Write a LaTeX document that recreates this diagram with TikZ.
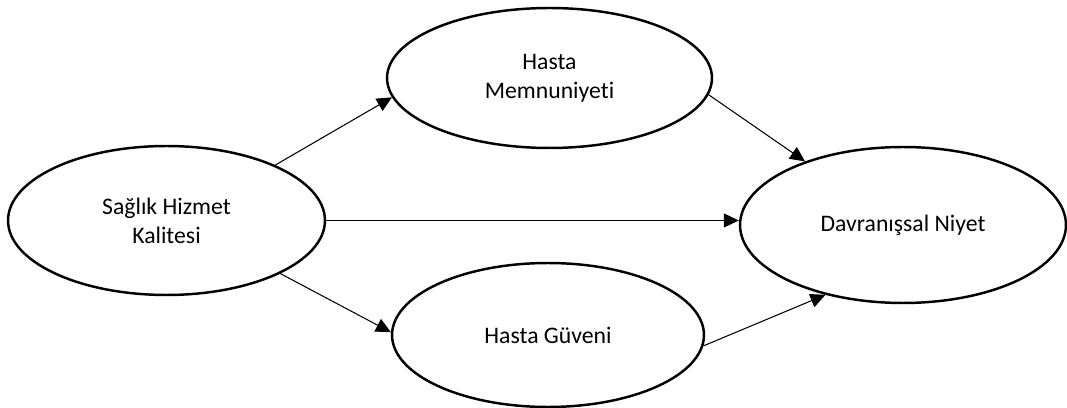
\documentclass[tikz,border=0pt]{standalone}
\usepackage{fontspec}
\setmainfont{Carlito}[Ligatures=NoCommon]
\usetikzlibrary{shapes.geometric,arrows.meta}
\begin{document}
\begin{tikzpicture}[x=0.02cm, y=-0.02cm, every node/.style={font=\fontsize{13.5}{16.5}\selectfont},
    oval/.style={draw, ellipse, line width=1.4pt, inner sep=0pt, align=center},
    link/.style={-{Triangle[length=0.3cm,width=0.28cm]}, line width=0.6pt}]
  \useasboundingbox (0,0) rectangle (1067,408);
  \node[oval, minimum width=6.34cm, minimum height=2.98cm] (shk) at (166.5,220.5) {Sağlık Hizmet\\Kalitesi};
  \node[oval, minimum width=6.5cm, minimum height=2.8cm] (hm) at (549.5,78) {Hasta\\Memnuniyeti};
  \node[oval, minimum width=6.24cm, minimum height=2.88cm] (hg) at (548,335) {Hasta Güveni};
  \node[oval, minimum width=6.52cm, minimum height=3.12cm] (dn) at (903,225) {Davranışsal Niyet};
  \draw[link] (shk.27) -- (hm.187);
  \draw[link] (shk.east) -- (shk.east -| dn.west);
  \draw[link] (shk.-25) -- (hg.179);
  \draw[link] (hm.-6) -- (dn.147);
  \draw[link] (hg.-4) -- (dn.222);
\end{tikzpicture}
\end{document}
